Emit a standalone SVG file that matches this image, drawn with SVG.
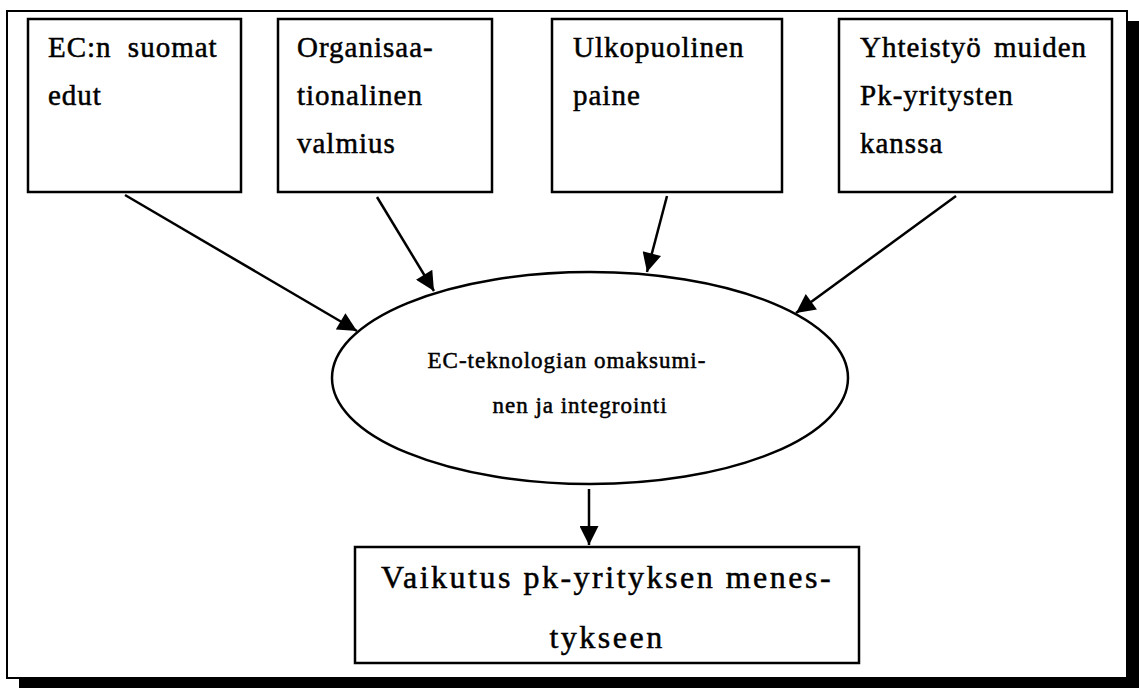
<svg xmlns="http://www.w3.org/2000/svg" width="1139" height="688" viewBox="0 0 1139 688">
  <style>
    .box { fill: #fff; stroke: #000; stroke-width: 2.5; }
    text { font-family: "Liberation Serif", "Times New Roman", serif; fill: #000; stroke: #000; stroke-width: 0.5; }
    .lbl { font-size: 29px; letter-spacing: 1px; }
    .mid { font-size: 23px; letter-spacing: 1px; text-anchor: middle; }
    .big { font-size: 32px; letter-spacing: 2.5px; text-anchor: middle; }
    .conn { stroke: #000; stroke-width: 2.5; fill: none; marker-end: url(#head); }
  </style>
  <defs>
    <marker id="head" viewBox="0 0 10 10" refX="10" refY="5" markerUnits="userSpaceOnUse" markerWidth="21" markerHeight="19" orient="auto">
      <path d="M0,0 L10,5 L0,10 Z" fill="#000"/>
    </marker>
  </defs>

  <!-- page frame with drop shadow -->
  <g id="frame">
    <rect x="19" y="21" width="1120" height="667" fill="#000"/>
    <rect x="7" y="11" width="1120" height="667" fill="#fff" stroke="#000" stroke-width="2"/>
  </g>

  <g id="node-edut">
    <rect class="box" x="28" y="19" width="213" height="173"/>
    <text class="lbl" x="48" y="57" word-spacing="8">EC:n suomat</text>
    <text class="lbl" x="48" y="105">edut</text>
  </g>

  <g id="node-valmius">
    <rect class="box" x="278" y="19" width="214" height="173"/>
    <text class="lbl" x="297" y="57">Organisaa-</text>
    <text class="lbl" x="297" y="105">tionalinen</text>
    <text class="lbl" x="297" y="153">valmius</text>
  </g>

  <g id="node-paine">
    <rect class="box" x="552" y="19" width="230" height="173"/>
    <text class="lbl" x="573" y="57">Ulkopuolinen</text>
    <text class="lbl" x="573" y="105">paine</text>
  </g>

  <g id="node-yhteistyo">
    <rect class="box" x="839" y="19" width="273" height="173"/>
    <text class="lbl" x="860" y="57" word-spacing="4">Yhteistyö muiden</text>
    <text class="lbl" x="860" y="105">Pk-yritysten</text>
    <text class="lbl" x="860" y="153">kanssa</text>
  </g>

  <g id="node-integrointi">
    <ellipse class="box" cx="590" cy="378" rx="258" ry="106"/>
    <text class="mid" x="567" y="368">EC-teknologian omaksumi-</text>
    <text class="mid" x="580" y="413">nen ja integrointi</text>
  </g>

  <g id="node-vaikutus">
    <rect class="box" x="355" y="547" width="504" height="116"/>
    <text class="big" x="607" y="588">Vaikutus pk-yrityksen menes-</text>
    <text class="big" x="607" y="648">tykseen</text>
  </g>

  <g id="connectors">
    <line class="conn" x1="125" y1="195" x2="357" y2="331"/>
    <line class="conn" x1="377" y1="197" x2="434" y2="291"/>
    <line class="conn" x1="667" y1="196" x2="647" y2="272"/>
    <line class="conn" x1="956" y1="196" x2="796" y2="313"/>
    <line class="conn" x1="589" y1="489" x2="589" y2="545"/>
  </g>
</svg>
